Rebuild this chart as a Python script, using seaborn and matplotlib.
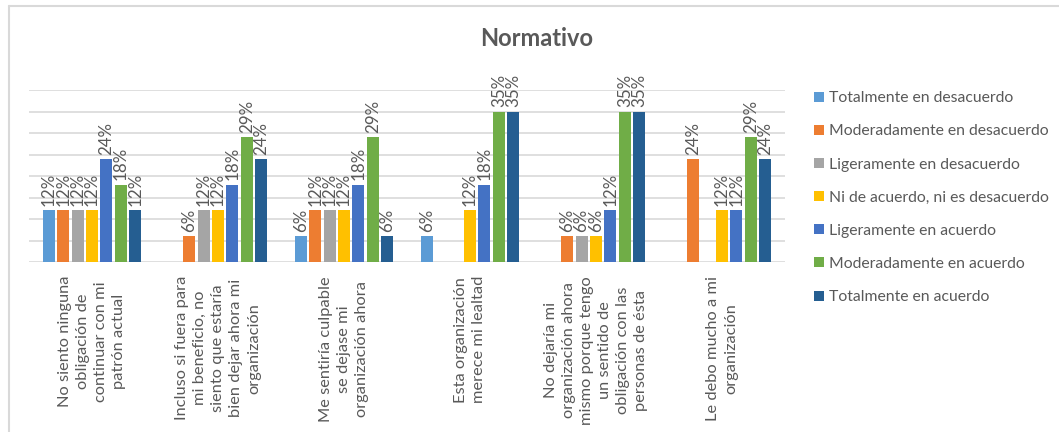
import numpy as np
import pandas as pd
import matplotlib
matplotlib.use("Agg")
import matplotlib.pyplot as plt
from matplotlib.patches import Patch
from matplotlib.lines import Line2D
import seaborn as sns

categories = [
    "No siento ninguna\nobligación de\ncontinuar con mi\npatrón actual",
    "Incluso si fuera para\nmi beneficio, no\nsiento que estaría\nbien dejar ahora mi\norganización",
    "Me sentiría culpable\nse dejase mi\norganización ahora",
    "Esta organización\nmerece mi lealtad",
    "No dejaría mi\norganización ahora\nmismo porque tengo\nun sentido de\nobligación con las\npersonas de ésta",
    "Le debo mucho a mi\norganización",
]
series_names = [
    "Totalmente en desacuerdo",
    "Moderadamente en desacuerdo",
    "Ligeramente en desacuerdo",
    "Ni de acuerdo, ni es desacuerdo",
    "Ligeramente en acuerdo",
    "Moderadamente en acuerdo",
    "Totalmente en acuerdo",
]
# percentages per series, one value per category (0 = no bar)
totalmente_desacuerdo = [12, 0, 6, 6, 0, 0]
moderadamente_desacuerdo = [12, 6, 12, 0, 6, 24]
ligeramente_desacuerdo = [12, 12, 12, 0, 6, 0]
ni_acuerdo = [12, 12, 12, 12, 6, 12]
ligeramente_acuerdo = [24, 18, 18, 18, 12, 12]
moderadamente_acuerdo = [18, 29, 29, 35, 35, 29]
totalmente_acuerdo = [12, 24, 6, 35, 35, 24]
colors = ["#5B9BD5", "#ED7D31", "#A5A5A5", "#FFC000", "#4472C4", "#70AD47", "#255E91"]

series_values = [totalmente_desacuerdo, moderadamente_desacuerdo, ligeramente_desacuerdo,
                 ni_acuerdo, ligeramente_acuerdo, moderadamente_acuerdo, totalmente_acuerdo]

rows = []
for name, vals in zip(series_names, series_values):
    for cat, v in zip(categories, vals):
        rows.append({"item": cat, "respuesta": name, "valor": v})
df = pd.DataFrame(rows)

sns.set_theme(style="white")
plt.rcParams["font.family"] = ["Lato", "DejaVu Sans"]
text_color = "#595959"
grid_color = "#D9D9D9"

fig = plt.figure(figsize=(10.59, 4.32), dpi=100)
ax = fig.add_axes([29 / 1059, 1 - 262 / 432, (785 - 29) / 1059, (262 - 90) / 432])

sns.barplot(data=df, x="item", y="valor", hue="respuesta", order=categories,
            hue_order=series_names, palette=colors, saturation=1, errorbar=None,
            width=0.8, gap=0.17, linewidth=0, ax=ax, legend=False)

ax.set_ylim(0, 40)
ax.set_yticks(np.arange(0, 41, 5))
ax.yaxis.grid(True, color=grid_color, linewidth=1.2)
ax.set_axisbelow(True)
ax.tick_params(axis="y", left=False, labelleft=False)
ax.tick_params(axis="x", bottom=False, pad=4, labelsize=11.8, labelcolor=text_color)
for s in ax.spines.values():
    s.set_visible(False)
ax.set_xlabel("")
ax.set_ylabel("")
ax.set_xlim(-0.5, len(categories) - 0.5)

for lab in ax.get_xticklabels():
    lab.set_rotation(90)
    lab.set_multialignment("center")
    lab.set_linespacing(1.38)

for cont, vals in zip(ax.containers, series_values):
    labels = [f"{v:.0f}%" if v > 0 else "" for v in vals]
    ax.bar_label(cont, labels=labels, rotation=90, padding=3, fontsize=12.2,
                 color=text_color)

fig.text(537 / 1059, 1 - 38 / 432, "Normativo", ha="center", va="center",
         fontsize=17, fontweight="bold", color=text_color)

handles = [Patch(facecolor=c, edgecolor="none") for c in colors]
fig.legend(handles, series_names, loc="upper left",
           bbox_to_anchor=(808 / 1059, 1 - 85 / 432), frameon=False,
           handlelength=0.6, handleheight=0.6, handletextpad=0.35,
           labelspacing=1.22, fontsize=11.3, labelcolor=text_color, borderaxespad=0)

fig.add_artist(Line2D([8.5 / 1059, 8.5 / 1059], [0, 1 - 6 / 432], transform=fig.transFigure,
                      color=grid_color, linewidth=1.5))
fig.add_artist(Line2D([8.5 / 1059, 1], [1 - 6 / 432, 1 - 6 / 432], transform=fig.transFigure,
                      color=grid_color, linewidth=1.5))

fig.savefig("out.png", dpi=100, facecolor="white")
